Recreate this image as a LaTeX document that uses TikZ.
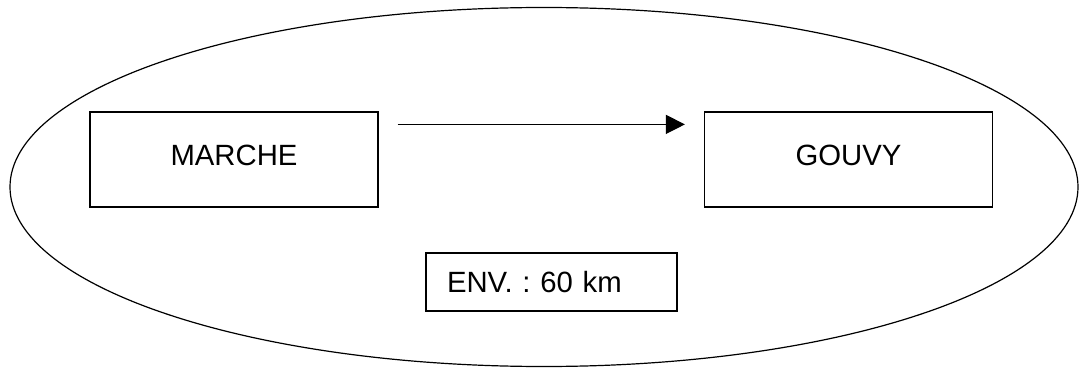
\documentclass[tikz,border=0pt]{standalone}
\usepackage{fontspec}
\setmainfont{Liberation Sans}
\frenchspacing
\usetikzlibrary{shapes.geometric,arrows.meta}
\begin{document}
\begin{tikzpicture}[x=1pt,y=-1pt,line width=1.2pt,
  town/.style={draw,rectangle,minimum width=288pt,minimum height=95pt,inner sep=0pt,
    font=\fontsize{29.3}{32}\selectfont,text height=21pt,text depth=9pt},
  infobox/.style={draw,rectangle,minimum height=58pt,inner xsep=21pt,inner ysep=0pt,
    text width=209pt,align=left,font=\fontsize{29.3}{32}\selectfont},
  region/.style={draw,ellipse,minimum width=1068pt,minimum height=359pt,inner sep=0pt},
  link/.style={-{Triangle[length=19pt,width=19pt]},shorten <=19pt,shorten >=19pt}]
\useasboundingbox (0,0) rectangle (1080,369);
\node[region] (zone) at (544,187) {};
\node[town] (marche) at (234,159.5) {MARCHE};
\node[town] (gouvy) at (848.5,159.5) {GOUVY};
\node[infobox] (env) at (551.5,282) {ENV. : 60 km};
\draw[link] ([yshift=-13pt]marche.north east) -- ([yshift=-13pt]gouvy.north west);
\end{tikzpicture}
\end{document}
